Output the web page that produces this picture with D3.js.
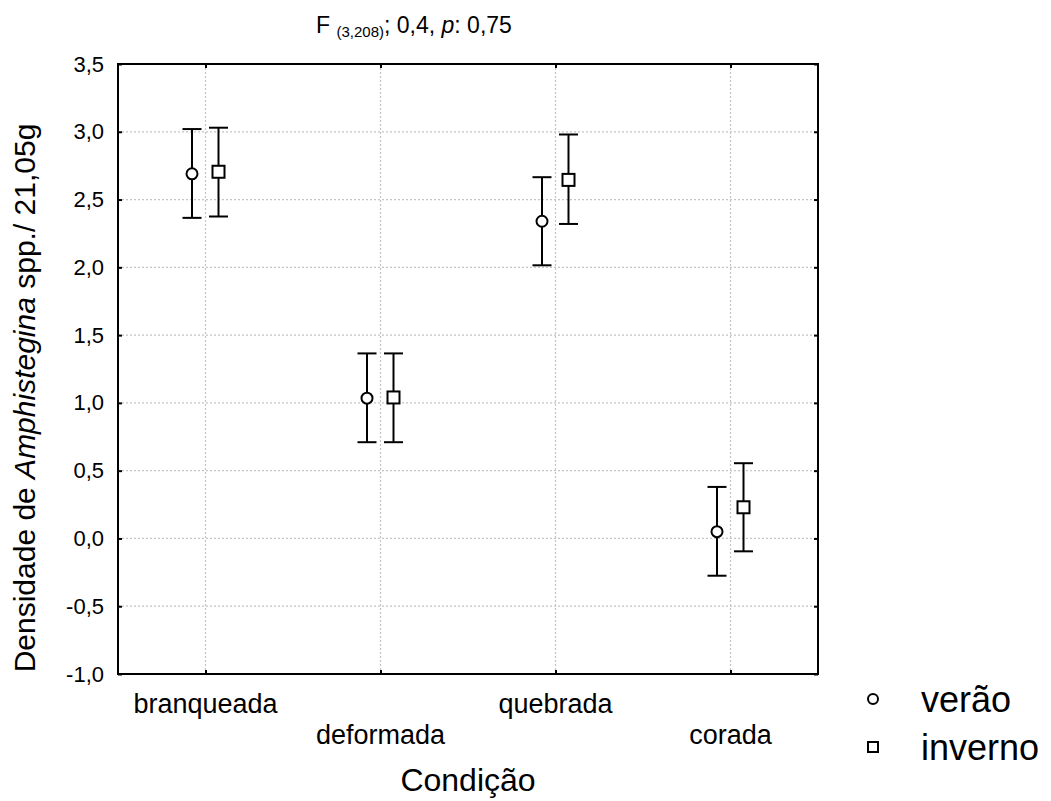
<!DOCTYPE html>
<html lang="pt">
<head>
<meta charset="UTF-8">
<title>Amphistegina</title>
<style>
  body { margin: 0; background: #fff; }
  svg { display: block; font-family: Arial, "Liberation Sans", sans-serif; }
</style>
</head>
<body>
<svg width="1051" height="801"></svg>
<script src="https://d3js.org/d3.v7.min.js"></script>
<script>
// data
var categories = ["branqueada", "deformada", "quebrada", "corada"];
var seasons = ["verão", "inverno"];
var veraoMean = [2.69, 1.035, 2.34, 0.05];
var veraoLow = [2.365, 0.71, 2.015, -0.275];
var veraoHigh = [3.02, 1.365, 2.665, 0.38];
var invernoMean = [2.705, 1.04, 2.645, 0.23];
var invernoLow = [2.375, 0.71, 2.32, -0.095];
var invernoHigh = [3.03, 1.365, 2.98, 0.555];
var yTicks = [-1.0, -0.5, 0.0, 0.5, 1.0, 1.5, 2.0, 2.5, 3.0, 3.5];

function drawChart() {
  var svg = d3.select("svg");
  var pLeft = 118, pRight = 818, pTop = 64, pBottom = 674;

  var x = d3.scalePoint().domain(categories).range([pLeft, pRight]).padding(0.5);
  var y = d3.scaleLinear().domain([-1, 3.5]).range([pBottom, pTop]);
  var offset = { "verão": -13.5, "inverno": 13 };
  var fmt = function (d) { return d3.format(".1f")(d).replace(".", ",").replace("−", "-"); };

  // grid
  var grid = svg.append("g").attr("stroke", "#c4c4c4").attr("stroke-width", 1.2)
    .attr("stroke-dasharray", "2,2");
  grid.selectAll(".gy").data(yTicks.slice(1, -1)).enter().append("line")
    .attr("x1", pLeft).attr("x2", pRight)
    .attr("y1", d => y(d)).attr("y2", d => y(d));
  grid.selectAll(".gx").data(categories).enter().append("line")
    .attr("y1", pTop).attr("y2", pBottom)
    .attr("x1", d => x(d)).attr("x2", d => x(d));

  // frame
  svg.append("rect").attr("x", pLeft).attr("y", pTop)
    .attr("width", pRight - pLeft).attr("height", pBottom - pTop)
    .attr("fill", "none").attr("stroke", "#000").attr("stroke-width", 2);

  // axes, ticks pointing inward
  svg.append("g").attr("transform", "translate(" + pLeft + ",0)")
    .call(d3.axisLeft(y).tickValues(yTicks).tickSize(-4).tickPadding(14).tickFormat(fmt))
    .call(g => g.select(".domain").remove())
    .call(g => g.selectAll("line").attr("stroke-width", 2))
    .call(g => g.selectAll("text").attr("font-size", 22)
      .attr("font-family", "Arial, 'Liberation Sans', sans-serif").attr("fill", "#000"));

  svg.append("g").attr("transform", "translate(" + pRight + ",0)")
    .call(d3.axisRight(y).tickValues(yTicks).tickSize(-4).tickFormat(""))
    .call(g => g.select(".domain").remove())
    .call(g => g.selectAll("line").attr("stroke-width", 2));

  svg.append("g").attr("transform", "translate(0," + pBottom + ")")
    .call(d3.axisBottom(x).tickSize(-4).tickFormat(""))
    .call(g => g.select(".domain").remove())
    .call(g => g.selectAll("line").attr("stroke-width", 2));

  svg.append("g").attr("transform", "translate(0," + pTop + ")")
    .call(d3.axisTop(x).tickSize(-4).tickFormat(""))
    .call(g => g.select(".domain").remove())
    .call(g => g.selectAll("line").attr("stroke-width", 2));

  // category labels, staggered
  svg.append("g").selectAll("text").data(categories).enter().append("text")
    .attr("x", d => x(d))
    .attr("y", (d, i) => i % 2 === 0 ? 713 : 744)
    .attr("text-anchor", "middle").attr("font-size", 27)
    .text(d => d);

  // error bars + points
  var series = [
    { name: "verão", mean: veraoMean, low: veraoLow, high: veraoHigh },
    { name: "inverno", mean: invernoMean, low: invernoLow, high: invernoHigh }
  ];
  series.forEach(function (s) {
    var g = svg.append("g");
    var items = categories.map((c, i) => ({ c: c, m: s.mean[i], lo: s.low[i], hi: s.high[i] }));
    var cx = d => x(d.c) + offset[s.name];
    g.selectAll(".v").data(items).enter().append("line")
      .attr("x1", cx).attr("x2", cx)
      .attr("y1", d => y(d.hi)).attr("y2", d => y(d.lo))
      .attr("stroke", "#000").attr("stroke-width", 2);
    ["hi", "lo"].forEach(function (k) {
      g.selectAll(".c" + k).data(items).enter().append("line")
        .attr("x1", d => cx(d) - 9.5).attr("x2", d => cx(d) + 9.5)
        .attr("y1", d => y(d[k])).attr("y2", d => y(d[k]))
        .attr("stroke", "#000").attr("stroke-width", 2);
    });
    if (s.name === "verão") {
      g.selectAll("circle").data(items).enter().append("circle")
        .attr("cx", cx).attr("cy", d => y(d.m)).attr("r", 5.5)
        .attr("fill", "#fff").attr("stroke", "#000").attr("stroke-width", 2);
    } else {
      g.selectAll("rect").data(items).enter().append("rect")
        .attr("x", d => cx(d) - 6).attr("y", d => y(d.m) - 6)
        .attr("width", 12).attr("height", 12)
        .attr("fill", "#fff").attr("stroke", "#000").attr("stroke-width", 2);
    }
  });

  // title
  var title = svg.append("text").attr("x", 316).attr("y", 33).attr("font-size", 23);
  title.append("tspan").text("F ");
  title.append("tspan").attr("font-size", 15).attr("dy", 4).text("(3,208)");
  title.append("tspan").attr("dy", -4).text("; 0,4, ");
  title.append("tspan").attr("font-style", "italic").text("p");
  title.append("tspan").text(": 0,75");

  // axis titles
  var yl = svg.append("text")
    .attr("transform", "translate(35,398) rotate(-90)")
    .attr("text-anchor", "middle").attr("font-size", 30);
  yl.append("tspan").text("Densidade de ");
  yl.append("tspan").attr("font-style", "italic").text("Amphistegina");
  yl.append("tspan").text(" spp./ 21,05g");

  svg.append("text").attr("x", (x("deformada") + x("quebrada")) / 2)
    .attr("y", 791).attr("text-anchor", "middle").attr("font-size", 32).text("Condição");

  // legend
  var legend = svg.append("g");
  legend.append("circle").attr("cx", 873).attr("cy", 699).attr("r", 5)
    .attr("fill", "#fff").attr("stroke", "#000").attr("stroke-width", 2);
  legend.append("rect").attr("x", 868).attr("y", 742).attr("width", 10).attr("height", 10)
    .attr("fill", "#fff").attr("stroke", "#000").attr("stroke-width", 2);
  legend.selectAll("text").data(seasons).enter().append("text")
    .attr("x", 921).attr("y", (d, i) => 712 + i * 48)
    .attr("font-size", 36).text(d => d);
}

drawChart();
</script>
</body>
</html>
